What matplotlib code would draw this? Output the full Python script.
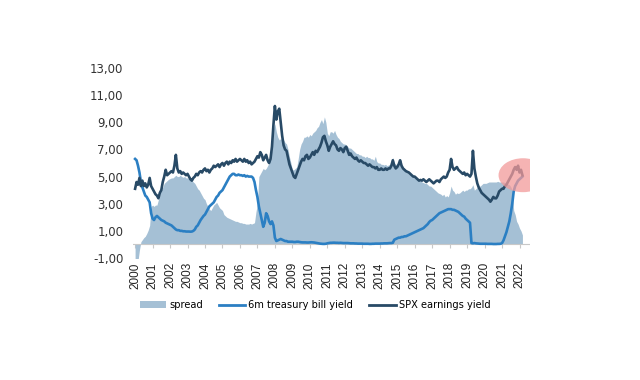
import numpy as np
import matplotlib
matplotlib.use("Agg")
import matplotlib.pyplot as plt
from matplotlib.patches import Ellipse, Patch
from matplotlib.lines import Line2D

# monthly observations, chart time axis 2000.0 .. 2022.17
spx_earnings_yield = [
    4.1, 4.6, 4.4, 4.9, 4.3, 4.7, 4.3, 4.5, 4.2, 4.4, 4.9, 4.3,   # 2000
    4.1, 3.9, 3.7, 3.6, 3.4, 3.8, 4.0, 4.6, 5.0, 5.5, 5.1, 5.2,   # 2001
    5.3, 5.4, 5.3, 5.8, 6.6, 5.6, 5.3, 5.4, 5.2, 5.3, 5.2, 5.1,   # 2002
    5.2, 5.0, 4.8, 4.7, 4.9, 5.0, 5.2, 5.1, 5.3, 5.4, 5.3, 5.5,   # 2003
    5.6, 5.4, 5.5, 5.3, 5.5, 5.6, 5.8, 5.7, 5.8, 5.9, 5.7, 5.9,   # 2004
    6.0, 5.8, 6.0, 6.1, 5.9, 6.1, 6.0, 6.2, 6.1, 6.3, 6.1, 6.2,   # 2005
    6.3, 6.2, 6.1, 6.3, 6.1, 6.2, 6.0, 6.1, 5.9, 6.0, 6.1, 6.3,   # 2006
    6.5, 6.4, 6.8, 6.6, 6.2, 6.4, 6.6, 6.2, 6.0, 6.3, 7.2, 8.8,   # 2007
    10.2, 9.2, 9.8, 10.0, 9.0, 8.0, 7.3, 7.0, 6.9, 6.4, 5.9, 5.6, # 2008
    5.3, 5.0, 4.9, 5.2, 5.5, 5.8, 6.1, 6.3, 6.2, 6.5, 6.6, 6.3,   # 2009
    6.4, 6.6, 6.8, 6.6, 6.9, 6.8, 7.0, 7.2, 7.5, 7.9, 8.0, 7.6,   # 2010
    7.3, 6.9, 7.2, 7.4, 7.6, 7.4, 7.3, 7.0, 6.9, 7.1, 7.0, 6.8,   # 2011
    7.1, 7.2, 6.9, 6.6, 6.7, 6.5, 6.4, 6.3, 6.4, 6.2, 6.1, 6.2,   # 2012
    6.1, 6.0, 6.0, 5.9, 5.8, 5.9, 5.8, 5.7, 5.7, 5.6, 5.7, 5.5,   # 2013
    5.5, 5.6, 5.5, 5.5, 5.6, 5.5, 5.6, 5.6, 5.8, 6.2, 5.8, 5.6,   # 2014
    5.7, 5.9, 6.2, 5.8, 5.6, 5.5, 5.4, 5.35, 5.3, 5.2, 5.1, 5.0,  # 2015
    5.0, 4.9, 4.8, 4.7, 4.75, 4.7, 4.8, 4.7, 4.6, 4.7, 4.8, 4.7,  # 2016
    4.6, 4.5, 4.6, 4.7, 4.7, 4.6, 4.8, 4.9, 5.0, 4.9, 5.0, 5.3,   # 2017
    5.5, 6.3, 5.7, 5.5, 5.6, 5.7, 5.5, 5.4, 5.3, 5.2, 5.3, 5.1,   # 2018
    5.2, 5.1, 5.0, 5.2, 6.9, 5.6, 5.0, 4.5, 4.2, 4.0, 3.8, 3.7,   # 2019
    3.6, 3.5, 3.4, 3.3, 3.15, 3.3, 3.5, 3.4, 3.4, 3.6, 3.9, 4.0,  # 2020
    4.1, 4.1, 4.3, 4.4, 4.6, 4.8, 5.0, 5.2, 5.5, 5.7, 5.5, 5.8,   # 2021
    5.3, 5.5, 5.1,                                                # 2022
]

tbill_6m_yield = [
    6.3, 6.2, 5.8, 5.3, 4.6, 4.2, 3.9, 3.6, 3.5, 3.3, 3.1, 2.3,   # 2000
    1.9, 1.8, 2.0, 2.1, 2.0, 1.9, 1.8, 1.75, 1.7, 1.6, 1.55, 1.5, # 2001
    1.45, 1.4, 1.3, 1.2, 1.1, 1.05, 1.05, 1.0, 1.0, 0.97, 0.97, 0.95,  # 2002
    0.95, 0.95, 0.94, 0.95, 1.0, 1.1, 1.3, 1.4, 1.6, 1.8, 1.95, 2.1,   # 2003
    2.2, 2.4, 2.6, 2.8, 2.9, 3.0, 3.1, 3.3, 3.5, 3.6, 3.8, 3.9,   # 2004
    4.0, 4.2, 4.4, 4.6, 4.8, 5.0, 5.1, 5.2, 5.2, 5.1, 5.1, 5.15, # 2005
    5.1, 5.1, 5.05, 5.1, 5.0, 5.05, 5.0, 5.0, 5.0, 4.9, 4.6, 4.0, # 2006
    3.5, 2.8, 2.3, 1.8, 1.3, 1.6, 2.3, 2.1, 1.7, 1.5, 1.7, 1.4,   # 2007
    0.5, 0.25, 0.3, 0.35, 0.4, 0.35, 0.3, 0.25, 0.25, 0.2, 0.2, 0.2,   # 2008
    0.2, 0.18, 0.18, 0.2, 0.2, 0.18, 0.16, 0.15, 0.15, 0.15, 0.14, 0.14,  # 2009
    0.15, 0.16, 0.15, 0.14, 0.12, 0.1, 0.08, 0.06, 0.05, 0.04, 0.04, 0.05,  # 2010
    0.08, 0.1, 0.12, 0.12, 0.13, 0.13, 0.12, 0.12, 0.11, 0.12, 0.11, 0.1,  # 2011
    0.1, 0.1, 0.1, 0.09, 0.08, 0.08, 0.08, 0.07, 0.07, 0.06, 0.06, 0.06,   # 2012
    0.06, 0.05, 0.05, 0.05, 0.05, 0.04, 0.04, 0.05, 0.05, 0.06, 0.06, 0.06, # 2013
    0.06, 0.07, 0.07, 0.08, 0.08, 0.08, 0.09, 0.1, 0.1, 0.12, 0.35, 0.4,    # 2014
    0.45, 0.5, 0.5, 0.55, 0.55, 0.6, 0.6, 0.65, 0.7, 0.75, 0.8, 0.85,  # 2015
    0.9, 0.95, 1.0, 1.05, 1.1, 1.15, 1.2, 1.3, 1.4, 1.5, 1.65, 1.75,   # 2016
    1.8, 1.9, 2.0, 2.1, 2.2, 2.3, 2.35, 2.4, 2.45, 2.5, 2.55, 2.6,     # 2017
    2.6, 2.6, 2.55, 2.55, 2.5, 2.45, 2.4, 2.3, 2.2, 2.1, 2.05, 1.9,    # 2018
    1.8, 1.7, 1.6, 0.1, 0.08, 0.1, 0.08, 0.07, 0.06, 0.05, 0.05, 0.05, # 2019
    0.05, 0.05, 0.04, 0.04, 0.04, 0.04, 0.03, 0.03, 0.03, 0.04, 0.04, 0.05,  # 2020
    0.1, 0.3, 0.6, 0.9, 1.3, 1.7, 2.3, 3.0, 3.9, 4.3, 4.5, 4.7,       # 2021
    4.8, 4.9, 5.0,                                                   # 2022
]

spread = [
    -2.0, -1.8, -1.2, -0.4, 0.2, 0.35, 0.5, 0.6, 0.8, 1.05, 1.4, 2.8,  # 2000
    2.9, 2.8, 2.9, 2.9, 3.3, 3.7, 4.0, 4.2, 4.5, 4.6, 4.7, 4.8,        # 2001
    4.85, 4.9, 4.9, 5.0, 5.1, 5.0, 5.0, 5.1, 5.0, 4.95, 5.0, 4.9,      # 2002
    4.9, 4.85, 4.8, 4.7, 4.6, 4.5, 4.3, 4.1, 4.0, 3.8, 3.6, 3.4,       # 2003
    3.3, 3.0, 2.8, 2.6, 2.5, 2.7, 2.9, 3.0, 3.1, 2.9, 2.7, 2.6,        # 2004
    2.5, 2.2, 2.1, 2.0, 1.95, 1.9, 1.85, 1.8, 1.75, 1.7, 1.7, 1.65,    # 2005
    1.6, 1.6, 1.55, 1.55, 1.5, 1.5, 1.5, 1.55, 1.5, 1.55, 1.6, 2.4,    # 2006
    3.0, 5.0, 5.2, 5.4, 5.6, 5.5, 5.6, 5.8, 6.0, 6.45, 7.0, 8.5,       # 2007
    8.9, 8.3, 7.9, 7.7, 7.8, 7.7, 7.7, 7.5, 7.4, 7.0, 6.45, 6.0,       # 2008
    5.5, 5.5, 5.6, 5.7, 6.3, 7.0, 7.4, 7.6, 7.9, 7.9, 8.0, 7.9,        # 2009
    8.1, 8.0, 8.2, 8.3, 8.4, 8.6, 8.7, 9.0, 9.2, 8.9, 9.4, 9.0,        # 2010
    8.2, 8.0, 8.3, 8.3, 8.2, 8.4, 8.1, 7.9, 7.8, 7.6, 7.5, 7.4,        # 2011
    7.4, 7.3, 7.2, 7.1, 7.1, 7.0, 6.9, 6.8, 6.7, 6.7, 6.6, 6.6,        # 2012
    6.5, 6.5, 6.4, 6.5, 6.4, 6.4, 6.3, 6.3, 6.2, 6.5, 6.1, 6.0,        # 2013
    6.0, 5.9, 5.9, 5.85, 5.9, 5.8, 5.85, 5.9, 6.2, 6.4, 6.0, 5.9,      # 2014
    5.9, 6.1, 6.0, 5.8, 5.7, 5.6, 5.5, 5.4, 5.3, 5.2, 5.1, 5.0,        # 2015
    5.0, 4.9, 4.8, 4.7, 4.7, 4.6, 4.55, 4.5, 4.5, 4.4, 4.3, 4.3,       # 2016
    4.2, 4.1, 4.0, 3.9, 3.8, 3.75, 3.7, 3.6, 3.7, 3.5, 3.6, 3.5,       # 2017
    3.8, 4.3, 4.0, 3.9, 3.7, 3.8, 3.75, 3.8, 3.9, 4.0, 3.9, 4.0,       # 2018
    4.0, 4.1, 4.1, 4.2, 4.4, 4.0, 4.1, 4.2, 4.3, 4.3, 4.4, 4.5,        # 2019
    4.5, 4.5, 4.55, 4.6, 4.6, 4.6, 4.6, 4.6, 4.6, 4.65, 4.6, 4.6,      # 2020
    4.6, 4.6, 4.55, 4.5, 4.45, 4.4, 4.25, 4.0, 2.5, 2.2, 1.7, 1.5,     # 2021
    1.2, 1.0, 0.7,                                                    # 2022
]

year_ticks = list(range(2000, 2023))
y_ticks = [-1, 1, 3, 5, 7, 9, 11, 13]
labels = ["spread", "6m treasury bill yield", "SPX earnings yield"]

t = 2000 + np.arange(len(spx_earnings_yield)) / 12.0

c_spread = "#a5c0d5"
c_tbill = "#2b7fc3"
c_spx = "#284a66"

fig = plt.figure(figsize=(6.4, 3.8), dpi=100)
ax = fig.add_axes([133 / 640, 1 - 258 / 380, (530 - 133) / 640, (258 - 68) / 380])

ax.fill_between(t, 0, spread, color=c_spread, linewidth=0, zorder=1)
ax.plot(t, tbill_6m_yield, color=c_tbill, lw=1.9, zorder=3)
ax.plot(t, spx_earnings_yield, color=c_spx, lw=1.9, zorder=4)

ell = Ellipse((2022.2, 5.1), width=2.8, height=2.5, facecolor="#f29a9a",
              edgecolor="none", alpha=0.75, zorder=5)
ax.add_patch(ell)

ymin, ymax = -1, 13
ax.set_ylim(ymin, ymax)
ax.set_xlim(1999.88, 2022.6)

ax.axhline(0, color="#c8c8c8", lw=0.8, zorder=2)
for s in ax.spines.values():
    s.set_visible(False)

ax.set_yticks(y_ticks)
ax.set_yticklabels([f"{v:.2f}".replace(".", ",") for v in y_ticks],
                   fontsize=8.5, color="#333333", family="DejaVu Sans")
ax.tick_params(axis="y", length=0, pad=7)

ax.set_xticks(year_ticks)
ax.set_xticklabels([str(y) for y in year_ticks], rotation=90,
                   fontsize=8.5, family="Liberation Sans", color="#222222")
ax.tick_params(axis="x", length=0, pad=3)

# tick marks on the zero line
sec = ax.secondary_xaxis((0 - ymin) / (ymax - ymin))
sec.set_xticks(year_ticks)
sec.set_xticklabels([])
sec.tick_params(axis="x", length=3, width=0.8, color="#c8c8c8", direction="out")
for s in sec.spines.values():
    s.set_visible(False)

handles = [
    Patch(facecolor=c_spread, edgecolor="none"),
    Line2D([0], [0], color=c_tbill, lw=2),
    Line2D([0], [0], color=c_spx, lw=2),
]
fig.legend(handles, labels, loc="center", bbox_to_anchor=(315 / 640, 1 - 305 / 380),
           ncol=3, frameon=False, handlelength=2.7, handleheight=0.6,
           handletextpad=0.3, columnspacing=1.6, prop={"family": "DejaVu Sans", "size": 7.1})

fig.savefig("out.png", dpi=100)
